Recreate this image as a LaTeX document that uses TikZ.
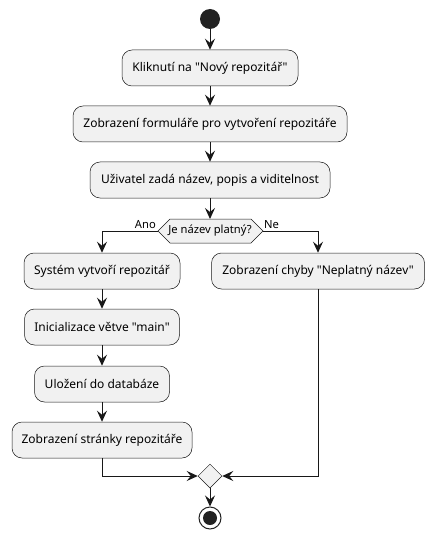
\documentclass[tikz,border=0pt]{standalone}
\usepackage{fontspec}
\setmainfont{Noto Sans}[Ligatures=TeXOff]
\usetikzlibrary{arrows.meta,shapes.geometric}
\definecolor{boxfill}{HTML}{F1F1F1}
\definecolor{boxline}{HTML}{181818}
\definecolor{dotfill}{HTML}{222222}
\begin{document}
\begin{tikzpicture}[x=1pt,y=-1pt,
  act/.style={draw=boxline, line width=0.5pt, fill=boxfill, rounded corners=10pt,
    minimum height=36pt, inner sep=0pt, font=\fontsize{12}{14}\selectfont},
  flow/.style={line width=1pt, draw=boxline, -{Stealth[length=11pt,width=10pt,inset=4pt]}},
  lbl/.style={font=\fontsize{11.2}{13}\selectfont, inner sep=0pt}]
\useasboundingbox (0,0) rectangle (434,540);
\node[circle, fill=dotfill, minimum size=20pt, inner sep=0pt] (start) at (210,19) {};
\node[act, minimum width=176pt] (a1) at (210,68) {Kliknutí na "Nový repozitář"};
\node[act, minimum width=274pt] (a2) at (210,124) {Zobrazení formuláře pro vytvoření repozitáře};
\node[act, minimum width=240pt] (a3) at (210,180) {Uživatel zadá název, popis a viditelnost};
% condition hexagon
\coordinate (condL) at (158,231);
\coordinate (condR) at (263,231);
\coordinate (condT) at (210,219);
\draw[draw=boxline, line width=0.5pt, fill=boxfill] (158,231) -- (170,219) -- (251,219) -- (263,231) -- (251,243) -- (170,243) -- cycle;
\node[lbl] (cond) at (210,231) {Je název platný?};
\node[act, minimum width=156pt] (y1) at (102,271) {Systém vytvoří repozitář};
\node[act, minimum width=155pt] (y2) at (102,327) {Inicializace větve "main"};
\node[act, minimum width=135pt] (y3) at (102,384) {Uložení do databáze};
\node[act, minimum width=180pt] (y4) at (102,440) {Zobrazení stránky repozitáře};
\node[act, minimum width=213pt] (n1) at (318,271) {Zobrazení chyby "Neplatný název"};
\node[diamond, draw=boxline, line width=0.5pt, fill=boxfill, aspect=1, inner sep=0pt,
  minimum width=24pt, minimum height=24pt] (merge) at (210,476) {};
\node[circle, draw=dotfill, line width=1pt, minimum size=22pt, inner sep=0pt] (end) at (210,518) {};
\node[circle, fill=dotfill, minimum size=14pt, inner sep=0pt] (endin) at (end) {};
\node[lbl, anchor=south east] (ano) at (156,229) {Ano};
\node[lbl, anchor=south west] (ne) at (264,229) {Ne};
\draw[flow] (start) -- (a1);
\draw[flow] (a1) -- (a2);
\draw[flow] (a2) -- (a3);
\draw[flow] (a3) -- (condT);
\draw[flow] (condL) -| (y1.north);
\draw[flow] (condR) -| (n1.north);
\draw[flow] (y1) -- (y2);
\draw[flow] (y2) -- (y3);
\draw[flow] (y3) -- (y4);
\draw[flow] (y4.south) |- (merge.west);
\draw[flow] (n1.south) |- (merge.east);
\draw[flow] (merge) -- (end);
\end{tikzpicture}
\end{document}
